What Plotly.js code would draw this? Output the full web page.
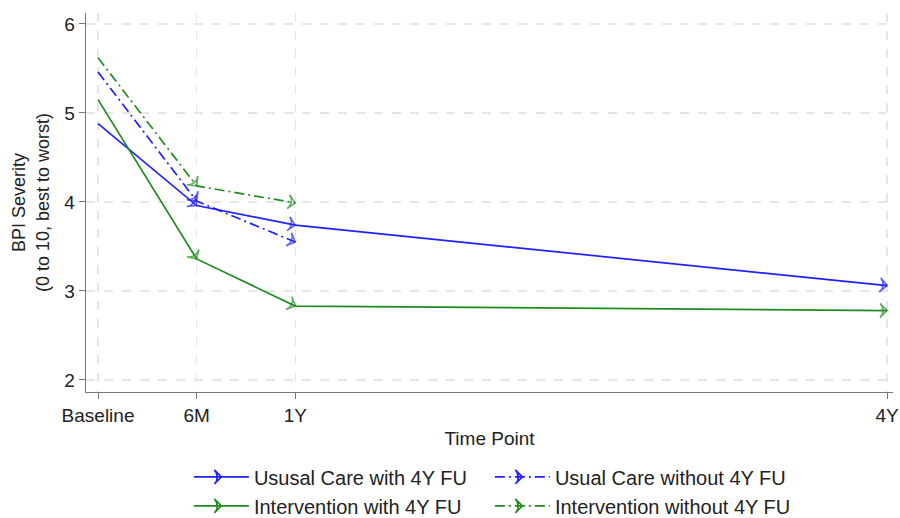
<!DOCTYPE html>
<html><head><meta charset="utf-8">
<script src="https://cdn.plot.ly/plotly-3.0.1.min.js"></script>
<style>body{margin:0;padding:0;background:#fff}#chart{width:900px;height:518px}</style>
</head><body><div id="chart"></div>
<script>
// Time points in years since baseline
const tickVals = [0, 0.5, 1, 4];
const tickLabels = ['Baseline', '6M', '1Y', '4Y'];

const usualWithX = [0, 0.5, 1, 4];
const usualWithY = [4.88, 3.96, 3.74, 3.06];
const usualWithoutX = [0, 0.5, 1];
const usualWithoutY = [5.46, 4.01, 3.55];
const interWithX = [0, 0.5, 1, 4];
const interWithY = [5.15, 3.36, 2.83, 2.78];
const interWithoutX = [0, 0.5, 1];
const interWithoutY = [5.62, 4.18, 3.99];

const names = ['Ususal Care with 4Y FU', 'Usual Care without 4Y FU', 'Intervention with 4Y FU', 'Intervention without 4Y FU'];
const BLUE = '#2020ff', GREEN = '#1f8c1f';
const DASH = '10px,4px,2px,4px';

function series(x, y, color, dash) {
  return {
    x: x, y: y, type: 'scatter', mode: 'lines+markers', showlegend: false,
    hoverinfo: 'skip', cliponaxis: false,
    line: {color: color, width: 1.7, dash: dash, backoff: 0},
    marker: {symbol: 'arrow-wide-open', angleref: 'previous', color: color,
             size: x.map((v, i) => i === 0 ? 0 : 10), line: {color: color, width: 1.6}}
  };
}
function legendTrace(name, color, dash) {
  return {
    x: [null], y: [null], type: 'scatter', mode: 'lines+markers', name: name,
    line: {color: color, width: 1.7, dash: dash},
    marker: {symbol: 'arrow-wide-open', angle: 90, color: color, size: 10, line: {color: color, width: 1.6}}
  };
}

const data = [
  series(usualWithX, usualWithY, BLUE, 'solid'),
  series(usualWithoutX, usualWithoutY, BLUE, DASH),
  series(interWithX, interWithY, GREEN, 'solid'),
  series(interWithoutX, interWithoutY, GREEN, DASH),
  legendTrace(names[0], BLUE, 'solid'),
  legendTrace(names[1], BLUE, DASH),
  legendTrace(names[2], GREEN, 'solid'),
  legendTrace(names[3], GREEN, DASH)
];

const layout = {
  width: 900, height: 518,
  margin: {l: 86, r: 7, t: 13, b: 126},
  paper_bgcolor: '#fff', plot_bgcolor: '#fff',
  font: {family: 'Liberation Sans, Arial, sans-serif', size: 19, color: '#222'},
  xaxis: {
    range: [-0.061, 4.03], tickvals: tickVals, ticktext: tickLabels, automargin: false,
    showline: true, linecolor: '#777', linewidth: 1.3, ticks: 'outside', ticklen: 6, tickcolor: '#777',
    showgrid: true, gridcolor: '#e6e6e6', griddash: 'dash', gridwidth: 1.3, zeroline: false,
    tickfont: {size: 19},
    title: {text: 'Time Point', standoff: 6, font: {size: 19}}
  },
  yaxis: {
    range: [1.865, 6.123], tickvals: [2, 3, 4, 5, 6], automargin: false,
    showline: true, linecolor: '#777', linewidth: 1.3, ticks: 'outside', ticklen: 6, tickcolor: '#777',
    showgrid: true, gridcolor: '#e6e6e6', griddash: 'dash', gridwidth: 1.3, zeroline: false,
    tickfont: {size: 19},
    title: {text: 'BPI Severity<br>(0 to 10, best to worst)', standoff: 10, font: {size: 18}}
  },
  legend: {
    orientation: 'h', xref: 'paper', yref: 'container', x: 0.1275, xanchor: 'left', y: 0.117, yanchor: 'top',
    entrywidth: 0.373, entrywidthmode: 'fraction', itemwidth: 55,
    font: {size: 20}, tracegroupgap: 0
  }
};

Plotly.newPlot('chart', data, layout, {displayModeBar: false, staticPlot: true});
</script>
</body></html>
